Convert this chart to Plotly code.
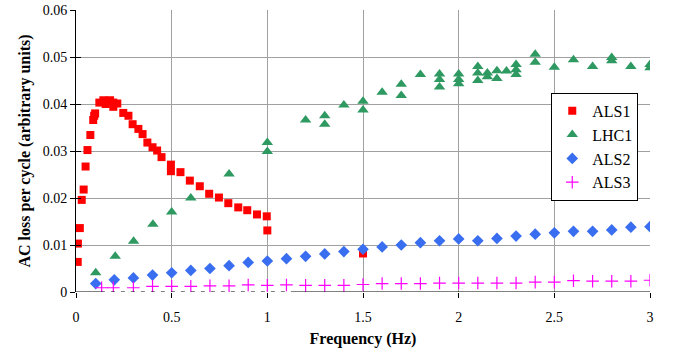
import plotly.graph_objects as go

# ---- data ----
als1_f = [0.009, 0.01, 0.02, 0.03, 0.04, 0.05, 0.06, 0.075, 0.09, 0.095, 0.1,
          0.122, 0.143, 0.155, 0.178, 0.195, 0.195, 0.216, 0.247, 0.274, 0.296,
          0.326, 0.348, 0.373, 0.4, 0.424, 0.447, 0.496, 0.496, 0.546, 0.595,
          0.647, 0.696, 0.747, 0.796, 0.848, 0.895, 0.946, 0.997, 1.0, 1.5]
als1_v = [0.0064, 0.0103, 0.0136, 0.0196, 0.0218, 0.0267, 0.0302, 0.0334, 0.0366, 0.0375, 0.038,
          0.0403, 0.0408, 0.0400, 0.0408, 0.0403, 0.0394, 0.0401, 0.0381, 0.0375, 0.0357,
          0.0347, 0.0336, 0.0318, 0.0308, 0.0301, 0.0287, 0.0271, 0.0257, 0.0255, 0.0237,
          0.0225, 0.0209, 0.0201, 0.0189, 0.0180, 0.0174, 0.0165, 0.0161, 0.0131, 0.0082]

lhc1_f = [0.103, 0.205, 0.301, 0.402, 0.5, 0.6, 0.8, 1.0, 1.0,
          1.2, 1.3, 1.3, 1.4, 1.5, 1.5, 1.6, 1.7, 1.7, 1.8,
          1.9, 1.9, 1.9, 2.0, 2.0, 2.0, 2.1, 2.1, 2.1, 2.15, 2.15,
          2.2, 2.2, 2.25, 2.3, 2.3, 2.3, 2.4, 2.4, 2.5, 2.6, 2.7,
          2.8, 2.8, 2.9, 3.0, 3.0]
lhc1_v = [0.0041, 0.0076, 0.0108, 0.0144, 0.0170, 0.0200, 0.0251, 0.0318, 0.0299,
          0.0366, 0.0375, 0.0357, 0.0398, 0.0406, 0.0387, 0.0425, 0.0442, 0.0418, 0.0463,
          0.0464, 0.0452, 0.0436, 0.0464, 0.0452, 0.0443, 0.0480, 0.0466, 0.0450, 0.0466, 0.0458,
          0.0471, 0.0454, 0.0470, 0.0484, 0.0473, 0.0463, 0.0506, 0.0489, 0.0478, 0.0494, 0.0480,
          0.0499, 0.0492, 0.0480, 0.0484, 0.0477]

als2_f = [0.103, 0.2, 0.3, 0.4, 0.5, 0.6, 0.7, 0.8, 0.9, 1.0, 1.1, 1.2, 1.3, 1.4, 1.5,
          1.6, 1.7, 1.8, 1.9, 2.0, 2.1, 2.2, 2.3, 2.4, 2.5, 2.6, 2.7, 2.8, 2.9, 3.0]
als2_v = [0.0018, 0.0026, 0.0030, 0.0036, 0.0041, 0.0046, 0.0050, 0.0056, 0.0063, 0.0066,
          0.0071, 0.0076, 0.0081, 0.0086, 0.0091, 0.0096, 0.0100, 0.0105, 0.0109, 0.0113,
          0.0109, 0.0114, 0.0119, 0.0123, 0.0126, 0.0129, 0.0129, 0.0132, 0.0138, 0.0139]

als3_f = [0.134, 0.195, 0.3, 0.4, 0.5, 0.6, 0.7, 0.8, 0.9, 1.0, 1.1, 1.2, 1.3, 1.4, 1.5,
          1.6, 1.7, 1.8, 1.9, 2.0, 2.1, 2.2, 2.3, 2.4, 2.5, 2.6, 2.7, 2.8, 2.9, 3.0]
als3_v = [0.0009, 0.0009, 0.0009, 0.0012, 0.0012, 0.0012, 0.0013, 0.0013, 0.0015, 0.0014,
          0.0015, 0.0014, 0.0014, 0.0014, 0.0016, 0.0018, 0.0018, 0.0018, 0.0019, 0.0019,
          0.0019, 0.0019, 0.0019, 0.0021, 0.0021, 0.0024, 0.0023, 0.0023, 0.0023, 0.0025]

x_ticks = [0, 0.5, 1, 1.5, 2, 2.5, 3]
x_labels = ["0", "0.5", "1", "1.5", "2", "2.5", "3"]
y_ticks = [0, 0.01, 0.02, 0.03, 0.04, 0.05, 0.06]
y_labels = ["0", "0.01", "0.02", "0.03", "0.04", "0.05", "0.06"]

FONT = "Liberation Serif, Times New Roman, serif"

fig = go.Figure()
fig.add_trace(go.Scatter(x=als1_f, y=als1_v, mode="markers", name="ALS1",
                         marker=dict(symbol="square", size=8, color="#FF0000")))
fig.add_trace(go.Scatter(x=lhc1_f, y=lhc1_v, mode="markers", name="LHC1",
                         marker=dict(symbol="triangle-up", size=10, color="#2E9960")))
fig.add_trace(go.Scatter(x=als2_f, y=als2_v, mode="markers", name="ALS2",
                         marker=dict(symbol="diamond", size=9, color="#3A6EF0")))
fig.add_trace(go.Scatter(x=als3_f, y=als3_v, mode="markers", name="ALS3",
                         marker=dict(symbol="cross-thin", size=9, color="#FF00FF",
                                     line=dict(width=1.2, color="#FF00FF"))))

# axis line along y=0: solid, dashed segment, solid
fig.add_shape(type="line", xref="x", yref="y", x0=0, x1=0.13, y0=0, y1=0,
              line=dict(color="black", width=1))
fig.add_shape(type="line", xref="x", yref="y", x0=0.13, x1=1.13, y0=0, y1=0,
              line=dict(color="black", width=1, dash="4px,6px"))
fig.add_shape(type="line", xref="x", yref="y", x0=1.13, x1=3, y0=0, y1=0,
              line=dict(color="black", width=1))

fig.update_layout(
    width=675, height=354,
    margin=dict(l=76, r=25, t=10, b=62),
    plot_bgcolor="white", paper_bgcolor="white",
    font=dict(family=FONT, color="black", size=14),
    showlegend=True,
    legend=dict(x=0.828, y=0.706, xanchor="left", yanchor="top",
                bgcolor="white", bordercolor="black", borderwidth=1,
                font=dict(family=FONT, size=16), tracegroupgap=0,
                itemwidth=30),
    xaxis=dict(range=[0, 3], tickvals=x_ticks, ticktext=x_labels,
               showgrid=True, gridcolor="#A0A0A0", gridwidth=1,
               zeroline=False, showline=False, automargin=False,
               ticks="outside", ticklen=5, tickcolor="black",
               ticklabelstandoff=7,
               tickfont=dict(family=FONT, size=14),
               title=dict(text="<b>Frequency (Hz)</b>", font=dict(family=FONT, size=16),
                          standoff=9)),
    yaxis=dict(range=[0, 0.06], tickvals=y_ticks, ticktext=y_labels,
               showgrid=True, gridcolor="#A0A0A0", gridwidth=1,
               zeroline=False, showline=True, linecolor="black", linewidth=1,
               automargin=False,
               ticks="outside", ticklen=5, tickcolor="black",
               tickfont=dict(family=FONT, size=14),
               title=dict(text="<b>AC loss per cycle (arbitrary units)</b>",
                          font=dict(family=FONT, size=16), standoff=8)),
    yaxis2=dict(range=[0, 0.06], tickvals=y_ticks, overlaying="y", side="left",
                showgrid=False, zeroline=False, showticklabels=False,
                automargin=False,
                ticks="inside", ticklen=5, tickcolor="black"),
)
# invisible trace to activate the inner-tick axis
fig.add_trace(go.Scatter(x=[None], y=[None], yaxis="y2", showlegend=False,
                         hoverinfo="skip"))

# remove the browser's default 8px body margin so the figure fills the window
fig.write_html("out.html", config={"displayModeBar": False},
               post_script="document.body.style.margin='0';")
